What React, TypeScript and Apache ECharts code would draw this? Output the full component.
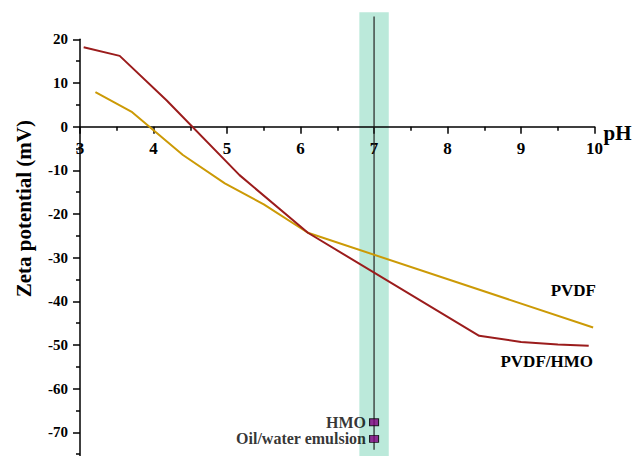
import React, { useEffect, useRef } from "react";
import * as echarts from "echarts";

// pH / zeta potential (mV)
const pvdfHmoData: [number, number][] = [
  [3.05, 18.2], [3.54, 16.2], [4.18, 6.0], [5.17, -11.1], [6.1, -24.3],
  [8.43, -47.9], [9.0, -49.3], [9.5, -49.9], [9.92, -50.2],
];
const pvdfData: [number, number][] = [
  [3.21, 7.9], [3.71, 3.3], [4.4, -6.5], [4.97, -13.0], [5.5, -17.8],
  [6.1, -24.3], [9.98, -46.0],
];
const markerNames = ["HMO", "Oil/water emulsion"];
const markerPh = [7, 7];
const markerZeta = [-67.7, -71.5];
// band: [xFrom, xTo, yTop, yBottom]
const bandData = [[6.8, 7.2, 26.2, -80]];
// vertical line: [x, yTop, yBottom]
const lineData = [[7, 25.2, -74]];

const FONT = "'Liberation Serif', 'Times New Roman', serif";

const Y_MIN = -80;
const Y_MAX = 20;
const GRID_TOP = 39.3;
const GRID_BOTTOM = -20;
const CHART_H = 456;

export default function App() {
  const ref = useRef<HTMLDivElement>(null);
  useEffect(() => {
    if (!ref.current) return;
    const chart = echarts.init(ref.current, undefined, { renderer: "svg" });
    const gridH = CHART_H - GRID_TOP - GRID_BOTTOM;
    // shift the bottom x axis up so that it sits on zeta = 0
    const zeroOffset = -(gridH * (0 - Y_MIN)) / (Y_MAX - Y_MIN);
    chart.setOption({
      animation: false,
      backgroundColor: "#ffffff",
      grid: { left: 80, right: 49.4, top: GRID_TOP, bottom: GRID_BOTTOM, containLabel: false, outerBoundsMode: "none" },
      xAxis: {
        type: "value",
        position: "bottom",
        offset: zeroOffset,
        z: 3,
        min: 3,
        max: 10,
        interval: 1,
        name: "pH",
        nameLocation: "end",
        nameGap: 9,
        nameMoveOverlap: false,
        nameTextStyle: {
          fontFamily: FONT, fontWeight: "bold", fontSize: 21, color: "#000",
          align: "left", verticalAlign: "top", lineHeight: 13,
        },
        axisLine: { onZero: false, lineStyle: { color: "#000", width: 1.5 } },
        axisTick: { show: true, inside: false, length: 7, lineStyle: { color: "#000", width: 1.5 } },
        minorTick: { show: true, splitNumber: 2, length: 4, lineStyle: { color: "#000", width: 1.5 } },
        axisLabel: { fontFamily: FONT, fontWeight: "bold", fontSize: 17, color: "#000", margin: 13 },
        splitLine: { show: false },
      },
      yAxis: {
        type: "value",
        min: Y_MIN,
        max: Y_MAX,
        interval: 10,
        z: 3,
        name: "Zeta potential (mV)",
        nameLocation: "middle",
        nameGap: 46,
        nameTextStyle: {
          fontFamily: FONT, fontWeight: "bold", fontSize: 21, color: "#000",
          padding: [0, 0, 0, 98],
        },
        axisLine: { show: true, onZero: false, lineStyle: { color: "#000", width: 1.5 } },
        axisTick: { show: true, inside: false, length: 7, lineStyle: { color: "#000", width: 1.5 } },
        minorTick: { show: true, splitNumber: 2, length: 4, lineStyle: { color: "#000", width: 1.5 } },
        axisLabel: {
          fontFamily: FONT, fontWeight: "bold", fontSize: 15, color: "#000", margin: 12,
          showMinLabel: false,
        },
        splitLine: { show: false },
      },
      series: [
        {
          type: "custom",
          clip: false,
          silent: true,
          z: 1,
          encode: { x: [0, 1], y: [2, 3] },
          data: bandData,
          renderItem: (_p: any, api: any) => {
            const a = api.coord([api.value(0), api.value(2)]);
            const b = api.coord([api.value(1), api.value(3)]);
            return {
              type: "rect",
              shape: { x: a[0], y: a[1], width: b[0] - a[0], height: b[1] - a[1] },
              style: { fill: "#bbe9da" },
            };
          },
        },
        {
          type: "custom",
          clip: false,
          silent: true,
          z: 4,
          encode: { x: 0, y: [1, 2] },
          data: lineData,
          renderItem: (_p: any, api: any) => {
            const a = api.coord([api.value(0), api.value(1)]);
            const b = api.coord([api.value(0), api.value(2)]);
            return {
              type: "line",
              shape: { x1: a[0], y1: a[1], x2: b[0], y2: b[1] },
              style: { stroke: "#222", lineWidth: 1.2 },
            };
          },
        },
        {
          type: "line",
          name: "PVDF",
          data: pvdfData,
          showSymbol: false,
          symbol: "none",
          z: 5,
          lineStyle: { color: "#cc9a06", width: 2 },
        },
        {
          type: "line",
          name: "PVDF/HMO",
          data: pvdfHmoData,
          showSymbol: false,
          symbol: "none",
          z: 6,
          lineStyle: { color: "#9b1c1c", width: 2 },
        },
        {
          type: "scatter",
          z: 7,
          symbol: "rect",
          symbolSize: [9, 7],
          itemStyle: { color: "#800080", borderColor: "#000", borderWidth: 1 },
          data: markerNames.map((n, i) => ({ name: n, value: [markerPh[i], markerZeta[i]] })),
          label: {
            show: true,
            position: "left",
            distance: 3,
            formatter: (p: any) => p.name,
            fontFamily: FONT,
            fontWeight: "bold",
            fontSize: 16,
            color: "#000",
          },
        },
      ],
      graphic: [
        {
          type: "text",
          x: 596,
          y: 290,
          style: {
            text: "PVDF", fill: "#000", font: `bold 17px ${FONT}`,
            align: "right", verticalAlign: "middle",
          },
        },
        {
          type: "text",
          x: 593,
          y: 361,
          style: {
            text: "PVDF/HMO", fill: "#000", font: `bold 17px ${FONT}`,
            align: "right", verticalAlign: "middle",
          },
        },
      ],
    });
    return () => chart.dispose();
  }, []);
  return (
    <div
      ref={ref}
      style={{ position: "absolute", left: 0, top: 0, width: 644, height: 456 }}
    />
  );
}
